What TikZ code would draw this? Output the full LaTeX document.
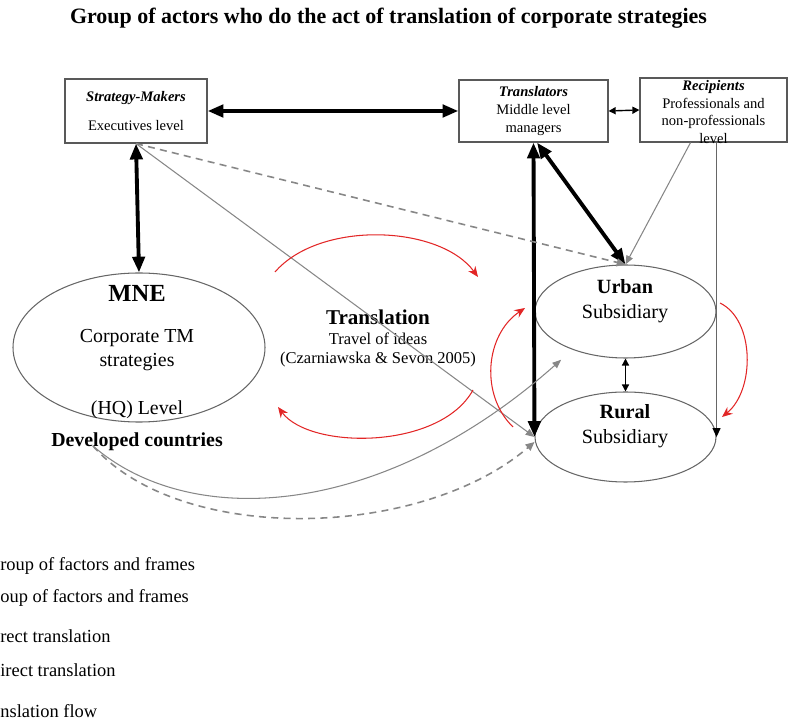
\documentclass[tikz,border=0pt]{standalone}
\usepackage{fontspec}
\setmainfont{Liberation Serif}
\usetikzlibrary{arrows.meta,shapes.geometric}
\definecolor{flowred}{RGB}{226,38,38}
\definecolor{linegray}{RGB}{135,135,135}
\begin{document}
\begin{tikzpicture}
[x=0.02cm,y=-0.02cm,
  boxdecorate/.style={draw=black!65,line width=0.7pt,inner sep=0pt},
  ovaldecorate/.style={ellipse,draw=black!60,line width=0.6pt,inner sep=0pt},
  boxtext/.style={align=center,inner sep=0pt,font=\fontsize{8.3}{10}\selectfont},
  ovaltext/.style={align=center,inner sep=0pt,font=\fontsize{11.3}{13.6}\selectfont},
  keytext/.style={anchor=west,inner sep=0pt,font=\fontsize{10.5}{12}\selectfont},
  heavyline/.style={{Triangle[length=9pt,width=7pt]}-{Triangle[length=9pt,width=7pt]},line width=2.2pt},
  lightline/.style={{Triangle[length=4pt,width=4pt]}-{Triangle[length=4pt,width=4pt]},line width=0.8pt},
  grayline/.style={-{Triangle[length=5pt,width=4pt]},linegray,line width=0.6pt},
  graydash/.style={-{Triangle[length=5pt,width=4.5pt]},linegray,line width=0.9pt,dash pattern=on 4pt off 3pt},
  blackthin/.style={-{Triangle[length=5pt,width=4.5pt,color=black]},black!60,line width=0.6pt},
  flowline/.style={-{Stealth[length=6pt,width=5pt]},flowred,line width=0.6pt}]
\useasboundingbox (0,0) rectangle (788,722);
%% title
\node[font=\bfseries\fontsize{12.5}{14}\selectfont] (title) at (388.5,18)
  {Group of actors who do the act of translation of corporate strategies};
%% boxes and ovals
\foreach \nodename/\x/\y/\w/\h in {maker/136/111/142/64,
  trans/533.5/111/149/62, recip/713.5/110/147/64} {
  \node (\nodename) at (\x,\y) [boxdecorate,minimum width=\w*0.02cm,
    minimum height=\h*0.02cm] {};
}
\foreach \nodename/\x/\y/\w/\h in {mne/139/347.5/252/149,
  urban/625.5/311.5/181/93, rural/625.5/437/181/90} {
  \node (\nodename) at (\x,\y) [ovaldecorate,minimum width=\w*0.02cm,
    minimum height=\h*0.02cm] {};
}
%% texts
\node[boxtext] (makertext) at (maker)
  {\textbf{\textit{Strategy-Makers}}\\[6pt]Executives level};
\node[boxtext] (transtext) at (trans)
  {\textbf{\textit{Translators}}\\Middle level\\managers};
\node[boxtext] (reciptext) at (713.5,112)
  {\textbf{\textit{Recipients}}\\Professionals and\\non-professionals\\level};
\node[font=\bfseries\fontsize{14}{16}\selectfont] (mnetitle) at (137,293) {MNE};
\node[ovaltext] (mnetext) at (137,350) {Corporate TM\\strategies};
\node[ovaltext] (hqtext) at (137,410) {(HQ) Level};
\node[ovaltext,font=\bfseries\fontsize{11.3}{13.6}\selectfont] (dev) at (137,442)
  {Developed countries};
\node[ovaltext,font=\fontsize{11.5}{14.2}\selectfont] (urbantext) at (625,301)
  {\textbf{Urban}\\Subsidiary};
\node[ovaltext,font=\fontsize{11.5}{14.2}\selectfont] (ruraltext) at (625,426)
  {\textbf{Rural}\\Subsidiary};
\node[font=\bfseries\fontsize{12}{14}\selectfont] (transl) at (378,317) {Translation};
\node[font=\fontsize{9.4}{11}\selectfont] (travel) at (378,339) {Travel of ideas};
\node[font=\fontsize{9.4}{11}\selectfont] (cite) at (378,360)
  {(Czarniawska \& Sevon 2005)};
%% key (cut at the left edge)
\foreach \nodename/\y/\keylabel in {keya/566/roup of factors and frames,
  keyb/598/oup of factors and frames, keyc/636/rect translation,
  keyd/670/irect translation, keye/711/nslation flow} {
  \node[keytext] (\nodename) at (0,\y) {\keylabel};
}
%% edges
\path
\foreach \startnode/\endnode in {maker.east/trans.west, maker.south/mne.north,
  trans.south/rural.west} {
  (\startnode) edge[heavyline] (\endnode)
};
\path ([xshift=2pt]trans.south) edge[heavyline] (urban.north)
  (trans.east) edge[lightline] (recip.west)
  (urban.south) edge[lightline] (rural.north)
  (maker.south) edge[grayline] (rural.west)
  (maker.south) edge[graydash] (urban.north)
  ([xshift=-0.46cm]recip.south) edge[grayline] (urban.north)
  (recip.south -| rural.east) edge[blackthin] (rural.east);
\draw[grayline] ([xshift=-0.88cm,yshift=-0.08cm]dev.center)
  .. controls (190,530) and (380,520) .. ([yshift=-0.3cm]urban.south west);
\draw[graydash] ([xshift=-0.88cm,yshift=-0.08cm]dev.center)
  .. controls (180,545) and (420,540) .. ([yshift=-0.1cm]rural.west);
%% translation flow
\foreach \nodename/\x/\y in {ta/275/272, tb/478/277, tc/473/390, td/278/407,
  te/513/427, tf/525/308, tg/720/303, th/722/417} {
  \coordinate (\nodename) at (\x,\y);
}
\draw[flowline] (ta) .. controls (320,220) and (440,225) .. (tb);
\draw[flowline] (tc) .. controls (440,450) and (310,450) .. (td);
\draw[flowline] (te) .. controls (480,395) and (485,335) .. (tf);
\draw[flowline] (tg) .. controls (755,320) and (755,390) .. (th);
\end{tikzpicture}
\end{document}
